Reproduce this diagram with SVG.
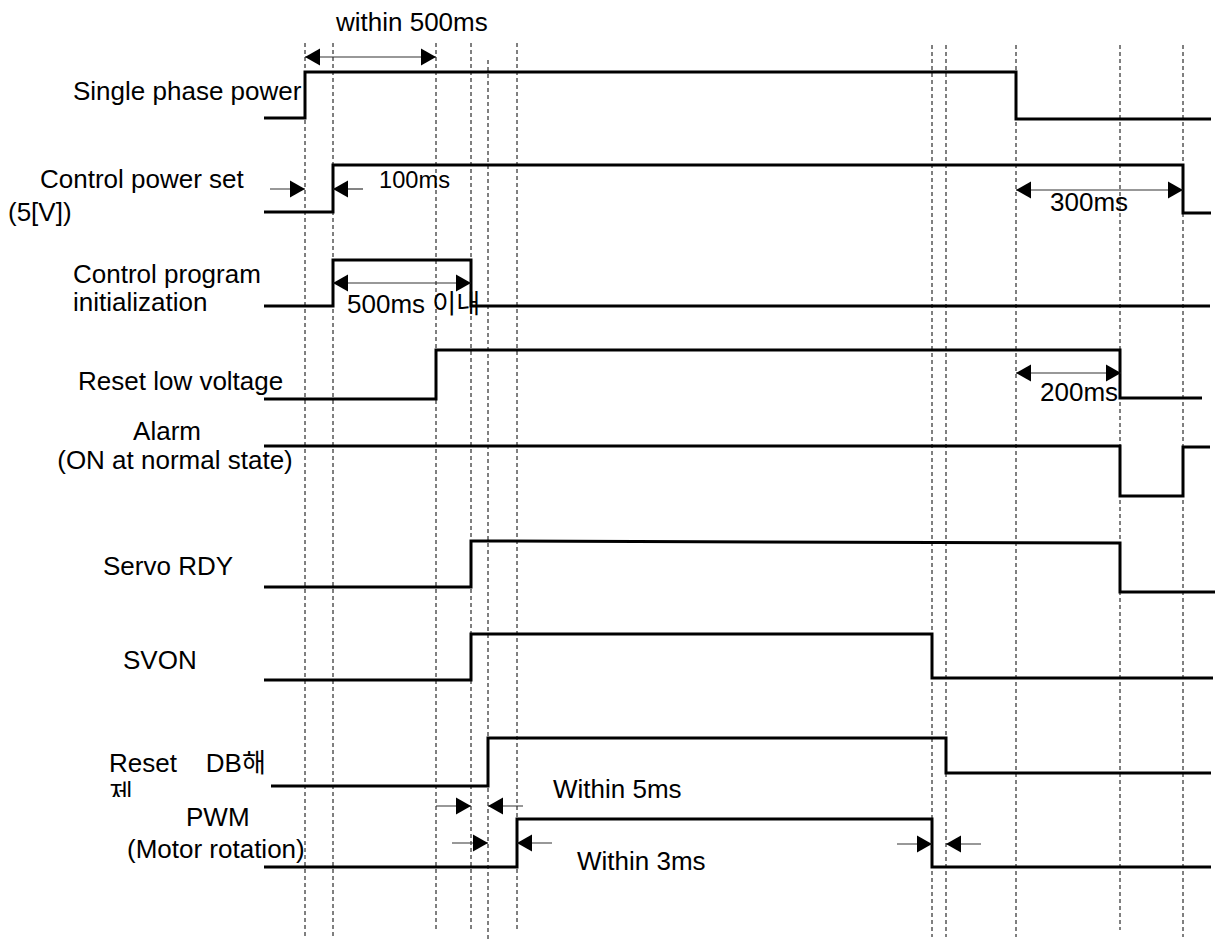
<svg xmlns="http://www.w3.org/2000/svg" xmlns:xlink="http://www.w3.org/1999/xlink" width="1215" height="942" viewBox="0 0 1215 942">
<style>
text{font-family:"Liberation Sans","Noto Sans CJK KR",Arial,sans-serif;font-size:26px;fill:#000}
.sig{fill:none;stroke:#000;stroke-width:3;stroke-linejoin:miter}
.grid{stroke:#000;stroke-width:1;stroke-dasharray:4,3;fill:none}
.dim{stroke:#333;stroke-width:1.2;fill:none}
</style>
<defs>
<path id="hr" d="M0,0 L-15,-8.5 L-15,8.5 z" fill="#000"/>
<path id="hl" d="M0,0 L15,-8.5 L15,8.5 z" fill="#000"/>
<clipPath id="clipJe"><rect x="100" y="776" width="40" height="21"/></clipPath>
</defs>

<g id="gridlines">
<line class="grid" x1="305" y1="43" x2="305" y2="938"/>
<line class="grid" x1="333" y1="43" x2="333" y2="937"/>
<line class="grid" x1="436" y1="43" x2="436" y2="930"/>
<line class="grid" x1="471" y1="43" x2="471" y2="930"/>
<line class="grid" x1="488" y1="60" x2="488" y2="940"/>
<line class="grid" x1="517" y1="43" x2="517" y2="930"/>
<line class="grid" x1="932" y1="45" x2="932" y2="937"/>
<line class="grid" x1="946" y1="45" x2="946" y2="937"/>
<line class="grid" x1="1016" y1="45" x2="1016" y2="937"/>
<line class="grid" x1="1120" y1="45" x2="1120" y2="930"/>
<line class="grid" x1="1183" y1="45" x2="1183" y2="937"/>
</g>

<g id="sig-single-phase">
<text x="73" y="100">Single phase power</text>
<polyline class="sig" points="264,118 305,118 305,72 1016,72 1016,119 1211,119"/>
</g>

<g id="sig-control-power">
<text x="40" y="188">Control power set</text>
<text x="8" y="221">(5[V])</text>
<polyline class="sig" points="264,212 333,212 333,165 1183,165 1183,213 1211,213"/>
</g>

<g id="sig-control-program">
<text x="73" y="283">Control program</text>
<text x="73" y="311">initialization</text>
<polyline class="sig" points="264,306 333,306 333,260 471,260 471,306 1210,306"/>
</g>

<g id="sig-reset-low-voltage">
<text x="78" y="390">Reset low voltage</text>
<polyline class="sig" points="264,399 436,399 436,350 1120,350 1120,398 1202,398"/>
</g>

<g id="sig-alarm">
<text x="167" y="440" text-anchor="middle">Alarm</text>
<text x="175" y="469" text-anchor="middle">(ON at normal state)</text>
<polyline class="sig" points="264,446 1120,446 1120,496 1183,496 1183,447 1210,447"/>
</g>

<g id="sig-servo-rdy">
<text x="103" y="575">Servo RDY</text>
<polyline class="sig" points="264,587 471,587 471,541 1120,543 1120,592 1215,592"/>
</g>

<g id="sig-svon">
<text x="123" y="669">SVON</text>
<polyline class="sig" points="264,680 471,680 471,634 932,634 932,678 1213,678"/>
</g>

<g id="sig-reset-db">
<text x="109" y="772" xml:space="preserve">Reset    DB해</text>
<text x="109" y="803" clip-path="url(#clipJe)">제</text>
<polyline class="sig" points="271,786 488,786 488,738 946,738 946,773 1211,773"/>
</g>

<g id="sig-pwm">
<text x="186" y="826">PWM</text>
<text x="127" y="858">(Motor rotation)</text>
<polyline class="sig" points="264,867 517,867 517,819 932,819 932,867 1211,867"/>
</g>

<g id="connectors">
<line class="dim" x1="305" y1="57" x2="436" y2="57"/>
<use xlink:href="#hl" href="#hl" x="305" y="57"/>
<use xlink:href="#hr" href="#hr" x="436" y="57"/>

<line class="dim" x1="270" y1="189" x2="305" y2="189"/>
<use xlink:href="#hr" href="#hr" x="305" y="189"/>
<line class="dim" x1="363" y1="189" x2="333" y2="189"/>
<use xlink:href="#hl" href="#hl" x="333" y="189"/>

<line class="dim" x1="333" y1="283" x2="471" y2="283"/>
<use xlink:href="#hl" href="#hl" x="333" y="283"/>
<use xlink:href="#hr" href="#hr" x="471" y="283"/>

<line class="dim" x1="1016" y1="190" x2="1183" y2="190"/>
<use xlink:href="#hl" href="#hl" x="1016" y="190"/>
<use xlink:href="#hr" href="#hr" x="1183" y="190"/>

<line class="dim" x1="1016" y1="373" x2="1121" y2="373"/>
<use xlink:href="#hl" href="#hl" x="1016" y="373"/>
<use xlink:href="#hr" href="#hr" x="1121" y="373"/>

<line class="dim" x1="436" y1="806" x2="471" y2="806"/>
<use xlink:href="#hr" href="#hr" x="471" y="806"/>
<line class="dim" x1="523" y1="806" x2="488" y2="806"/>
<use xlink:href="#hl" href="#hl" x="488" y="806"/>

<line class="dim" x1="452" y1="843" x2="488" y2="843"/>
<use xlink:href="#hr" href="#hr" x="488" y="843"/>
<line class="dim" x1="552" y1="843" x2="517" y2="843"/>
<use xlink:href="#hl" href="#hl" x="517" y="843"/>

<line class="dim" x1="897" y1="844" x2="932" y2="844"/>
<use xlink:href="#hr" href="#hr" x="932" y="844"/>
<line class="dim" x1="981" y1="844" x2="946" y2="844"/>
<use xlink:href="#hl" href="#hl" x="946" y="844"/>
</g>

<g id="labels">
<text x="336" y="31">within 500ms</text>
<text x="379" y="188" textLength="71" lengthAdjust="spacingAndGlyphs" style="font-size:24px">100ms</text>
<text x="347" y="313">500ms 이내</text>
<text x="1050" y="211">300ms</text>
<text x="1040" y="401">200ms</text>
<text x="553" y="798">Within 5ms</text>
<text x="577" y="870">Within 3ms</text>
</g>
</svg>
